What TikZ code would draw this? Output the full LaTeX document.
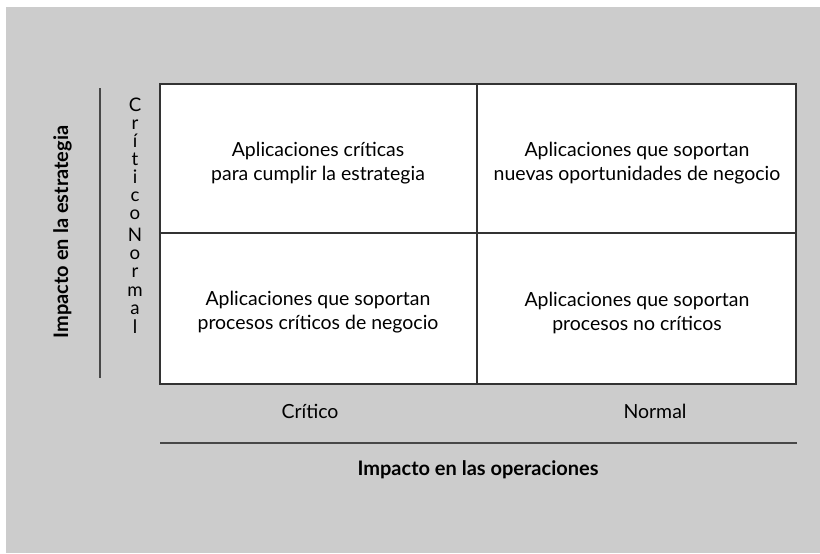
\documentclass[tikz,border=0pt]{standalone}
\usepackage{fontspec}
\setmainfont{Lato}
\definecolor{bg}{HTML}{CCCCCC}
\definecolor{ln}{HTML}{333333}
\begin{document}
\begin{tikzpicture}[x=0.75pt,y=-0.75pt,
  celltxt/.style={align=center,font=\fontsize{14.6}{18}\selectfont,inner sep=0pt},
  axlbl/.style={font=\fontsize{14.6}{18}\selectfont,inner sep=0pt},
  axttl/.style={font=\bfseries\fontsize{15}{18}\selectfont,inner sep=0pt},
  letter/.style={font=\fontsize{14}{16}\selectfont,inner sep=0pt,anchor=base},
  gridline/.style={draw=ln,line width=0.8pt},
  axline/.style={draw=ln!90,line width=1pt}]
\useasboundingbox (0,0) rectangle (820,553);
\fill[white] (0,0) rectangle (820,553);
\fill[bg] (6,7) rectangle (820,553);
% grid
\fill[white] (160,84) rectangle (796,384);
\draw[gridline] (160,84) rectangle (796,384);
\draw[gridline] (477,84) -- (477,384);
\draw[gridline] (160,233) -- (796,233);
% cell texts
\node[celltxt] (tl) at (318,163) {Aplicaciones críticas\\para cumplir la estrategia};
\node[celltxt] (tr) at (637,163) {Aplicaciones que soportan\\nuevas oportunidades de negocio};
\node[celltxt] (bl) at (318,312.5) {Aplicaciones que soportan\\procesos críticos de negocio};
\node[celltxt] (br) at (637,312.5) {Aplicaciones que soportan\\procesos no críticos};
% bottom axis
\node[axlbl,anchor=base] (xc) at (310,418) {Crítico};
\node[axlbl,anchor=base] (xn) at (655,418) {Normal};
\coordinate (hl) at (160,443);
\coordinate (hr) at (797,443);
\draw[axline] (hl) -- (hr);
\node[axttl,anchor=base] (xt) at (478,475) {Impacto en las operaciones};
% left axis
\coordinate (vt) at (100,88);
\coordinate (vb) at (100,378);
\draw[axline] (vt) -- (vb);
\node[axttl,rotate=90,anchor=base] (yt) at (68,232) {Impacto en la estrategia};
\foreach \ch [count=\i from 0] in {C,r,í,t,i,c,o}{
  \node[letter] (c\i) at (135,{111.5+18*\i}) {\ch};
}
\foreach \ch [count=\i from 0] in {N,o,r,m,a,l}{
  \node[letter] (n\i) at (135,{241+18.4*\i}) {\ch};
}
\end{tikzpicture}
\end{document}
